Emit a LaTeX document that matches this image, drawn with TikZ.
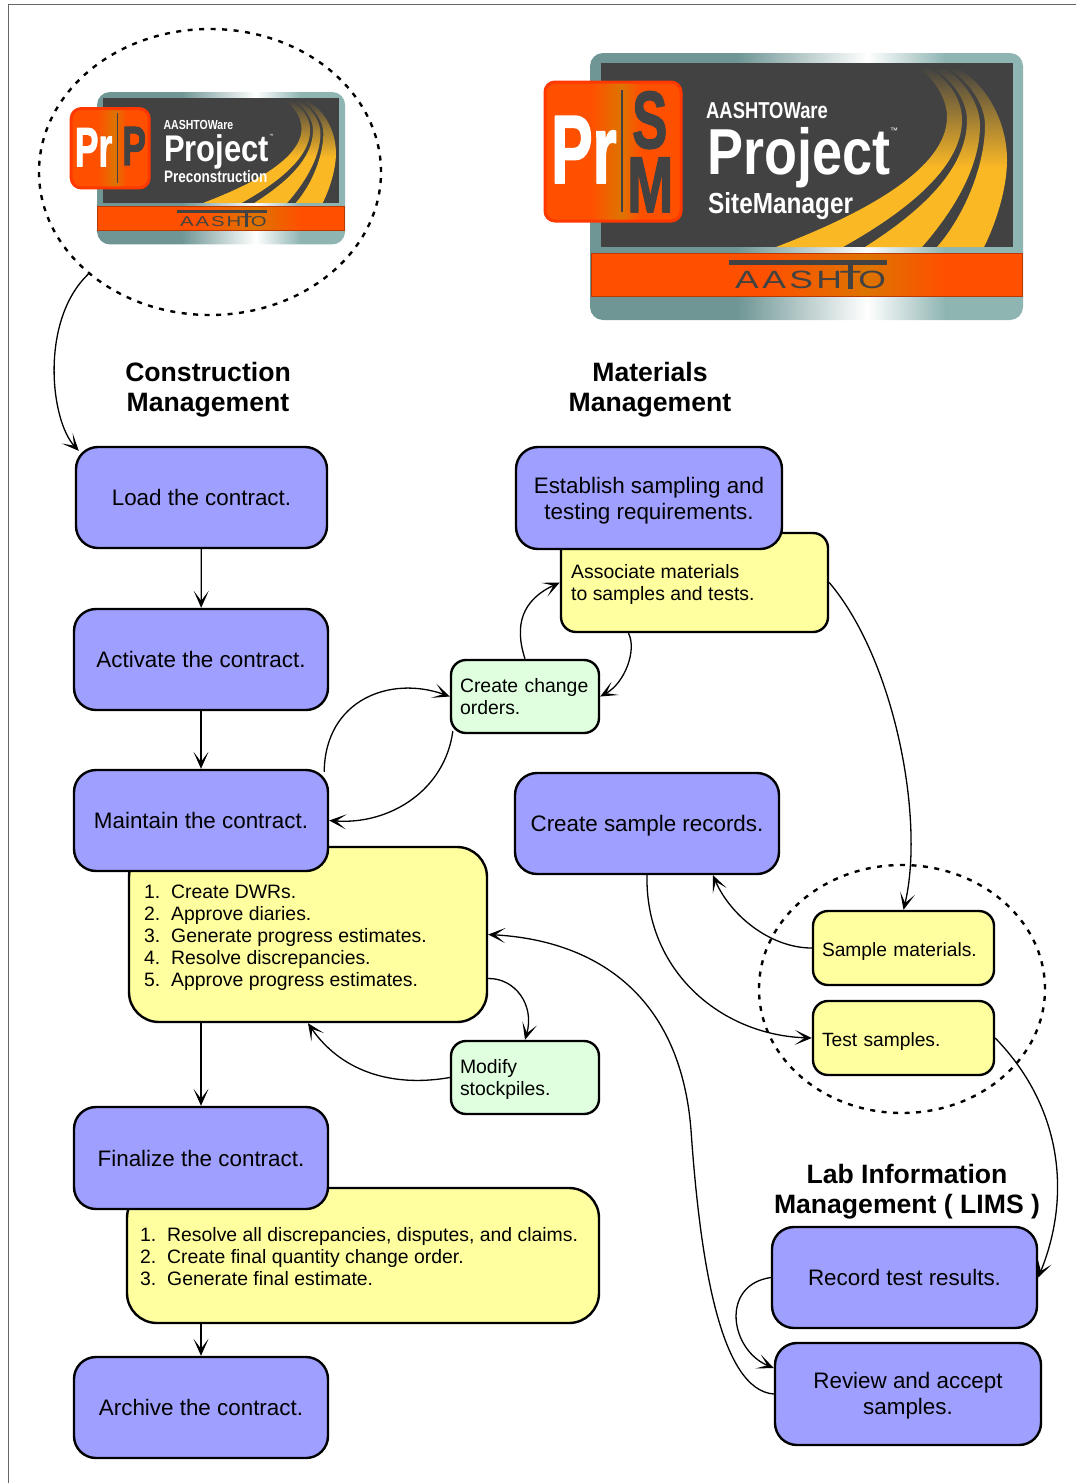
\documentclass[tikz,border=0pt]{standalone}
\usepackage{fontspec}
\setmainfont{Liberation Sans}
\newfontfamily\logoheavy[BoldFeatures={FakeBold=2}]{Liberation Sans}
\usetikzlibrary{arrows.meta,shapes.geometric}
\definecolor{boxblue}{HTML}{9F9FFF}
\definecolor{boxyellow}{HTML}{FFFF9F}
\definecolor{boxgreen}{HTML}{DFFFDF}
\definecolor{logodark}{HTML}{424242}
\definecolor{logogold}{HTML}{FBB825}
\definecolor{logoorange}{HTML}{FF5000}
\definecolor{logoamber}{HTML}{DD7400}
\definecolor{logored}{HTML}{FF3800}
\definecolor{logorim}{HTML}{B83A00}
\definecolor{steelleft}{HTML}{6F9695}
\definecolor{steelright}{HTML}{8FB5B3}
\pgfdeclareverticalshading{roadshade}{100bp}{color(0bp)=(logogold); color(25bp)=(logogold); color(47bp)=(logogold); color(75bp)=(logodark); color(100bp)=(logodark)}
\pgfdeclarehorizontalshading{steelshade}{100bp}{color(0bp)=(steelleft); color(25bp)=(steelleft); color(42bp)=(steelleft); color(57bp)=(white); color(66bp)=(steelright); color(100bp)=(steelright)}
\pgfdeclarehorizontalshading{bandshade}{100bp}{color(0bp)=(logoorange); color(45bp)=(logoorange); color(57bp)=(logoamber); color(66bp)=(logoorange); color(100bp)=(logoorange)}
\pgfdeclarehorizontalshading{badgeshade}{100bp}{color(0bp)=(logoorange); color(42bp)=(logoorange); color(53bp)=(logoamber); color(60bp)=(logoorange); color(100bp)=(logoorange)}
\tikzset{
	bluebox/.style={draw, fill=boxblue, line width=2.4pt, rounded corners=22pt, align=center, inner sep=0pt, font=\fontsize{22.4}{26}\selectfont},
	bigyellow/.style={draw, fill=boxyellow, line width=2.4pt, rounded corners=30pt, inner sep=0pt},
	yellowbox/.style={draw, fill=boxyellow, line width=2.4pt, rounded corners=15pt, text width=#1, inner xsep=9pt, inner ysep=0pt, align=left, font=\fontsize{19.2}{22}\selectfont},
	greenbox/.style={draw, fill=boxgreen, line width=2.4pt, rounded corners=15pt, text width=#1, inner xsep=9pt, inner ysep=0pt, align=left, font=\fontsize{19.4}{22}\selectfont},
	listtext/.style={anchor=north west, inner sep=0pt, align=left, font=\fontsize{19.4}{22}\selectfont},
	heading/.style={align=center, inner sep=0pt, font=\bfseries\fontsize{26.6}{30}\selectfont},
	dashring/.style={draw, ellipse, line width=2.4pt, dash pattern=on 5pt off 6.5pt, inner sep=0pt},
	flow/.style={->, line width=1.3pt},
	logotext/.style={anchor=base west, inner sep=0pt, text=white},
}
\newcommand{\listnum}[2]{\makebox[27pt][l]{#1}#2}
\newcommand{\logobase}[1]{
	\shade[shading=steelshade, rounded corners=13pt] (590,53) rectangle (1023,320);
	\fill[logodark] (601,63) rectangle (1013,247);
	\shade[shading=roadshade] (776,247) .. controls (860,215) and (947,170) .. (947,117) .. controls (947,95) and (930,75) .. (917,67) -- (927,67) .. controls (950,80) and (962,100) .. (962,120) .. controls (962,170) and (900,215) .. (843,247) -- cycle;
	\shade[shading=roadshade] (865,247) .. controls (920,212) and (967,170) .. (967,120) .. controls (967,100) and (952,80) .. (932,67) -- (942,67) .. controls (965,80) and (980,105) .. (980,125) .. controls (980,170) and (950,215) .. (922,247) -- cycle;
	\shade[shading=roadshade] (937,247) .. controls (965,215) and (985,165) .. (985,125) .. controls (985,105) and (970,82) .. (947,67) -- (955,67) .. controls (985,82) and (1007,120) .. (1007,160) .. controls (1007,190) and (995,225) .. (984,247) -- cycle;
	\shade[shading=bandshade, draw=logorim, line width=1pt] (591,253) rectangle (1022,296);
	\fill[logodark] (729,260) rectangle (887,265);
	\fill[logodark] (848,265) rectangle (853,289);
	\node[logotext, text=logodark, font=\fontsize{25}{25}\selectfont] (#1aashto) at (735,288) {\scalebox{1.42}[1]{A\kern2.4pt A\kern2.4pt S\kern2.4pt H\kern-1.7pt T\kern-2.1pt O}};
	\node[logotext, font=\bfseries\fontsize{23}{23}\selectfont] (#1ware) at (706,118) {\scalebox{.8}[1]{AASHTOWare}};
	\node[logotext, font=\bfseries\fontsize{65}{65}\selectfont] (#1project) at (707,174) {\scalebox{.83}[1]{Project}};
	\node[logotext, font=\fontsize{8}{8}\selectfont] (#1tm) at (890,133) {™};
	\draw[draw=logored, line width=3pt, rounded corners=10pt, shading=badgeshade, shade] (545,82) rectangle (681,221);
	\node[logotext, font=\logoheavy\bfseries\fontsize{97}{97}\selectfont] (#1pr) at (551,183) {\scalebox{.64}[1]{Pr}};
}
\begin{document}
\begin{tikzpicture}[x=1pt, y=-1pt, line join=round, >={Stealth[length=17pt,width=15pt,inset=10pt]}]
	\useasboundingbox (0,0) rectangle (1076,1483);
	\path
	(8,1483) coordinate (frameA)
	(1076,4) coordinate (frameB)
	;
	\draw[black!60, line width=1pt] (frameA) |- (frameB);

	\begin{scope}
		\logobase{sm}
		\draw[logodark, line width=1.5pt] (622,90)--(622,212);
		\node[logotext, text=logodark, font=\logoheavy\bfseries\fontsize{81}{81}\selectfont] (smS) at (632,148) {\scalebox{.65}[1]{S}};
		\node[logotext, text=logodark, font=\logoheavy\bfseries\fontsize{79}{79}\selectfont] (smM) at (627,212) {\scalebox{.7}[1]{M}};
		\node[logotext, font=\bfseries\fontsize{29}{29}\selectfont] (smname) at (708,213) {\scalebox{.84}[1]{SiteManager}};
	\end{scope}
	\begin{scope}[shift={(97,92)}, xscale=.573, yscale=.571, shift={(-590,-53)}, transform shape]
		\logobase{pre}
		\draw[logodark, line width=1pt] (625,90)--(625,212);
		\node[logotext, text=logodark, font=\logoheavy\bfseries\fontsize{97}{97}\selectfont] (preP) at (634,181) {\scalebox{.64}[1]{P}};
		\node[logotext, font=\bfseries\fontsize{29}{29}\selectfont] (prename) at (707,212) {\scalebox{.81}[1]{Preconstruction}};
	\end{scope}

	\node[dashring, minimum width=342pt, minimum height=286pt] (prering) at (210,172) {};
	\node[dashring, minimum width=286pt, minimum height=248pt] (labring) at (902,989) {};

	\node[heading] (conshead) at (208,390) {Construction\\Management};
	\node[heading] (mathead) at (650,390) {Materials\\Management};
	\node[heading] (limshead) at (907,1192) {Lab Information\\Management ( LIMS )};

	\node[bigyellow, minimum width=358pt, minimum height=175pt] (listbox) at (308,934.5) {};
	\node[bigyellow, minimum width=472pt, minimum height=135pt] (finalbox) at (363,1255.5) {};
	\node[yellowbox=249pt, minimum height=99pt] (assoc) at (694.5,582.5) {};
	\node[listtext] (assoctext) at (571,564) {Associate materials\\to samples and tests.};
	\node[listtext] (listtext) at (144,885) {\listnum{1.}{Create DWRs.}\\\listnum{2.}{Approve diaries.}\\\listnum{3.}{Generate progress estimates.}\\\listnum{4.}{Resolve discrepancies.}\\\listnum{5.}{Approve progress estimates.}};
	\node[listtext] (finaltext) at (140,1227) {\listnum{1.}{Resolve all discrepancies, disputes, and claims.}\\\listnum{2.}{Create final quantity change order.}\\\listnum{3.}{Generate final estimate.}};

	\node[bluebox, minimum width=251pt, minimum height=101pt] (load) at (201.5,497.5) {Load the contract.};
	\node[bluebox, minimum width=254pt, minimum height=101pt] (activate) at (201,659.5) {Activate the contract.};
	\node[bluebox, minimum width=254pt, minimum height=101pt] (maintain) at (201,820.5) {Maintain the contract.};
	\node[bluebox, minimum width=254pt, minimum height=102pt] (finalize) at (201,1158) {Finalize the contract.};
	\node[bluebox, minimum width=254pt, minimum height=101pt] (archive) at (201,1407.5) {Archive the contract.};
	\node[bluebox, minimum width=266pt, minimum height=102pt, text height=48pt] (establish) at (649,498) {Establish sampling and\\testing requirements.};
	\node[bluebox, minimum width=264pt, minimum height=101pt, text height=20pt] (records) at (647,823.5) {Create sample records.};
	\node[bluebox, minimum width=265pt, minimum height=101pt] (record) at (904.5,1277.5) {Record test results.};
	\node[bluebox, minimum width=266pt, minimum height=102pt, text height=46pt] (review) at (908,1394) {Review and accept\\samples.};

	\node[greenbox=130pt, minimum height=73pt] (change) at (525,696.5) {Create change\\orders.};
	\node[greenbox=130pt, minimum height=73pt, text height=18pt] (modify) at (525,1077.5) {Modify\\stockpiles.};
	\node[yellowbox=163pt, minimum height=74pt, text height=20pt] (sample) at (903.5,948) {Sample materials.};
	\node[yellowbox=163pt, minimum height=74pt, text height=20pt] (test) at (903.5,1038) {Test samples.};

	\foreach \a/\b in {load/activate,activate/maintain}
	\draw[flow] (\a) -- (\b);
	\draw[flow] (listbox.south -| finalize.north) -- (finalize.north);
	\draw[flow] (finalbox.south -| archive.north) -- (archive.north);

	\draw[flow] (prering.220) .. controls (40,320) and (50,420) .. ([shift={(4,5)}]load.north west);
	\draw[flow] ([shift={(-5,3)}]maintain.north east) .. controls (325,700) and (390,675) .. (change.west);
	\draw[flow] ([shift={(3,-3)}]change.south west) .. controls (445,790) and (390,825) .. (maintain.east);
	\draw[flow] (change.north) .. controls (514,625) and (522,600) .. (assoc.west);
	\draw[flow] ([xshift=-66pt]assoc.south) .. controls (637,650) and (625,683) .. (change.east);
	\draw[flow] (assoc.east) .. controls (895,660) and (925,820) .. (sample.north);
	\draw[flow] (sample.west) .. controls (770,948) and (730,915) .. ([xshift=66pt]records.south);
	\draw[flow] (records.south) .. controls (645,970) and (720,1035) .. (test.west);
	\draw[flow] (test.east) .. controls (1065,1110) and (1070,1200) .. (record.east);
	\draw[flow] (record.west) .. controls (720,1285) and (730,1350) .. ([yshift=26pt]review.west);
	\draw[flow] (review.west) .. controls (720,1390) and (700,1260) .. (691,1130) .. controls (680,990) and (590,940) .. (listbox.east);
	\draw[flow] ([yshift=-44pt]listbox.east) .. controls (515,978) and (535,1005) .. (modify.north);
	\draw[flow] (modify.west) .. controls (390,1088) and (340,1070) .. (listbox.south);
\end{tikzpicture}
\end{document}
